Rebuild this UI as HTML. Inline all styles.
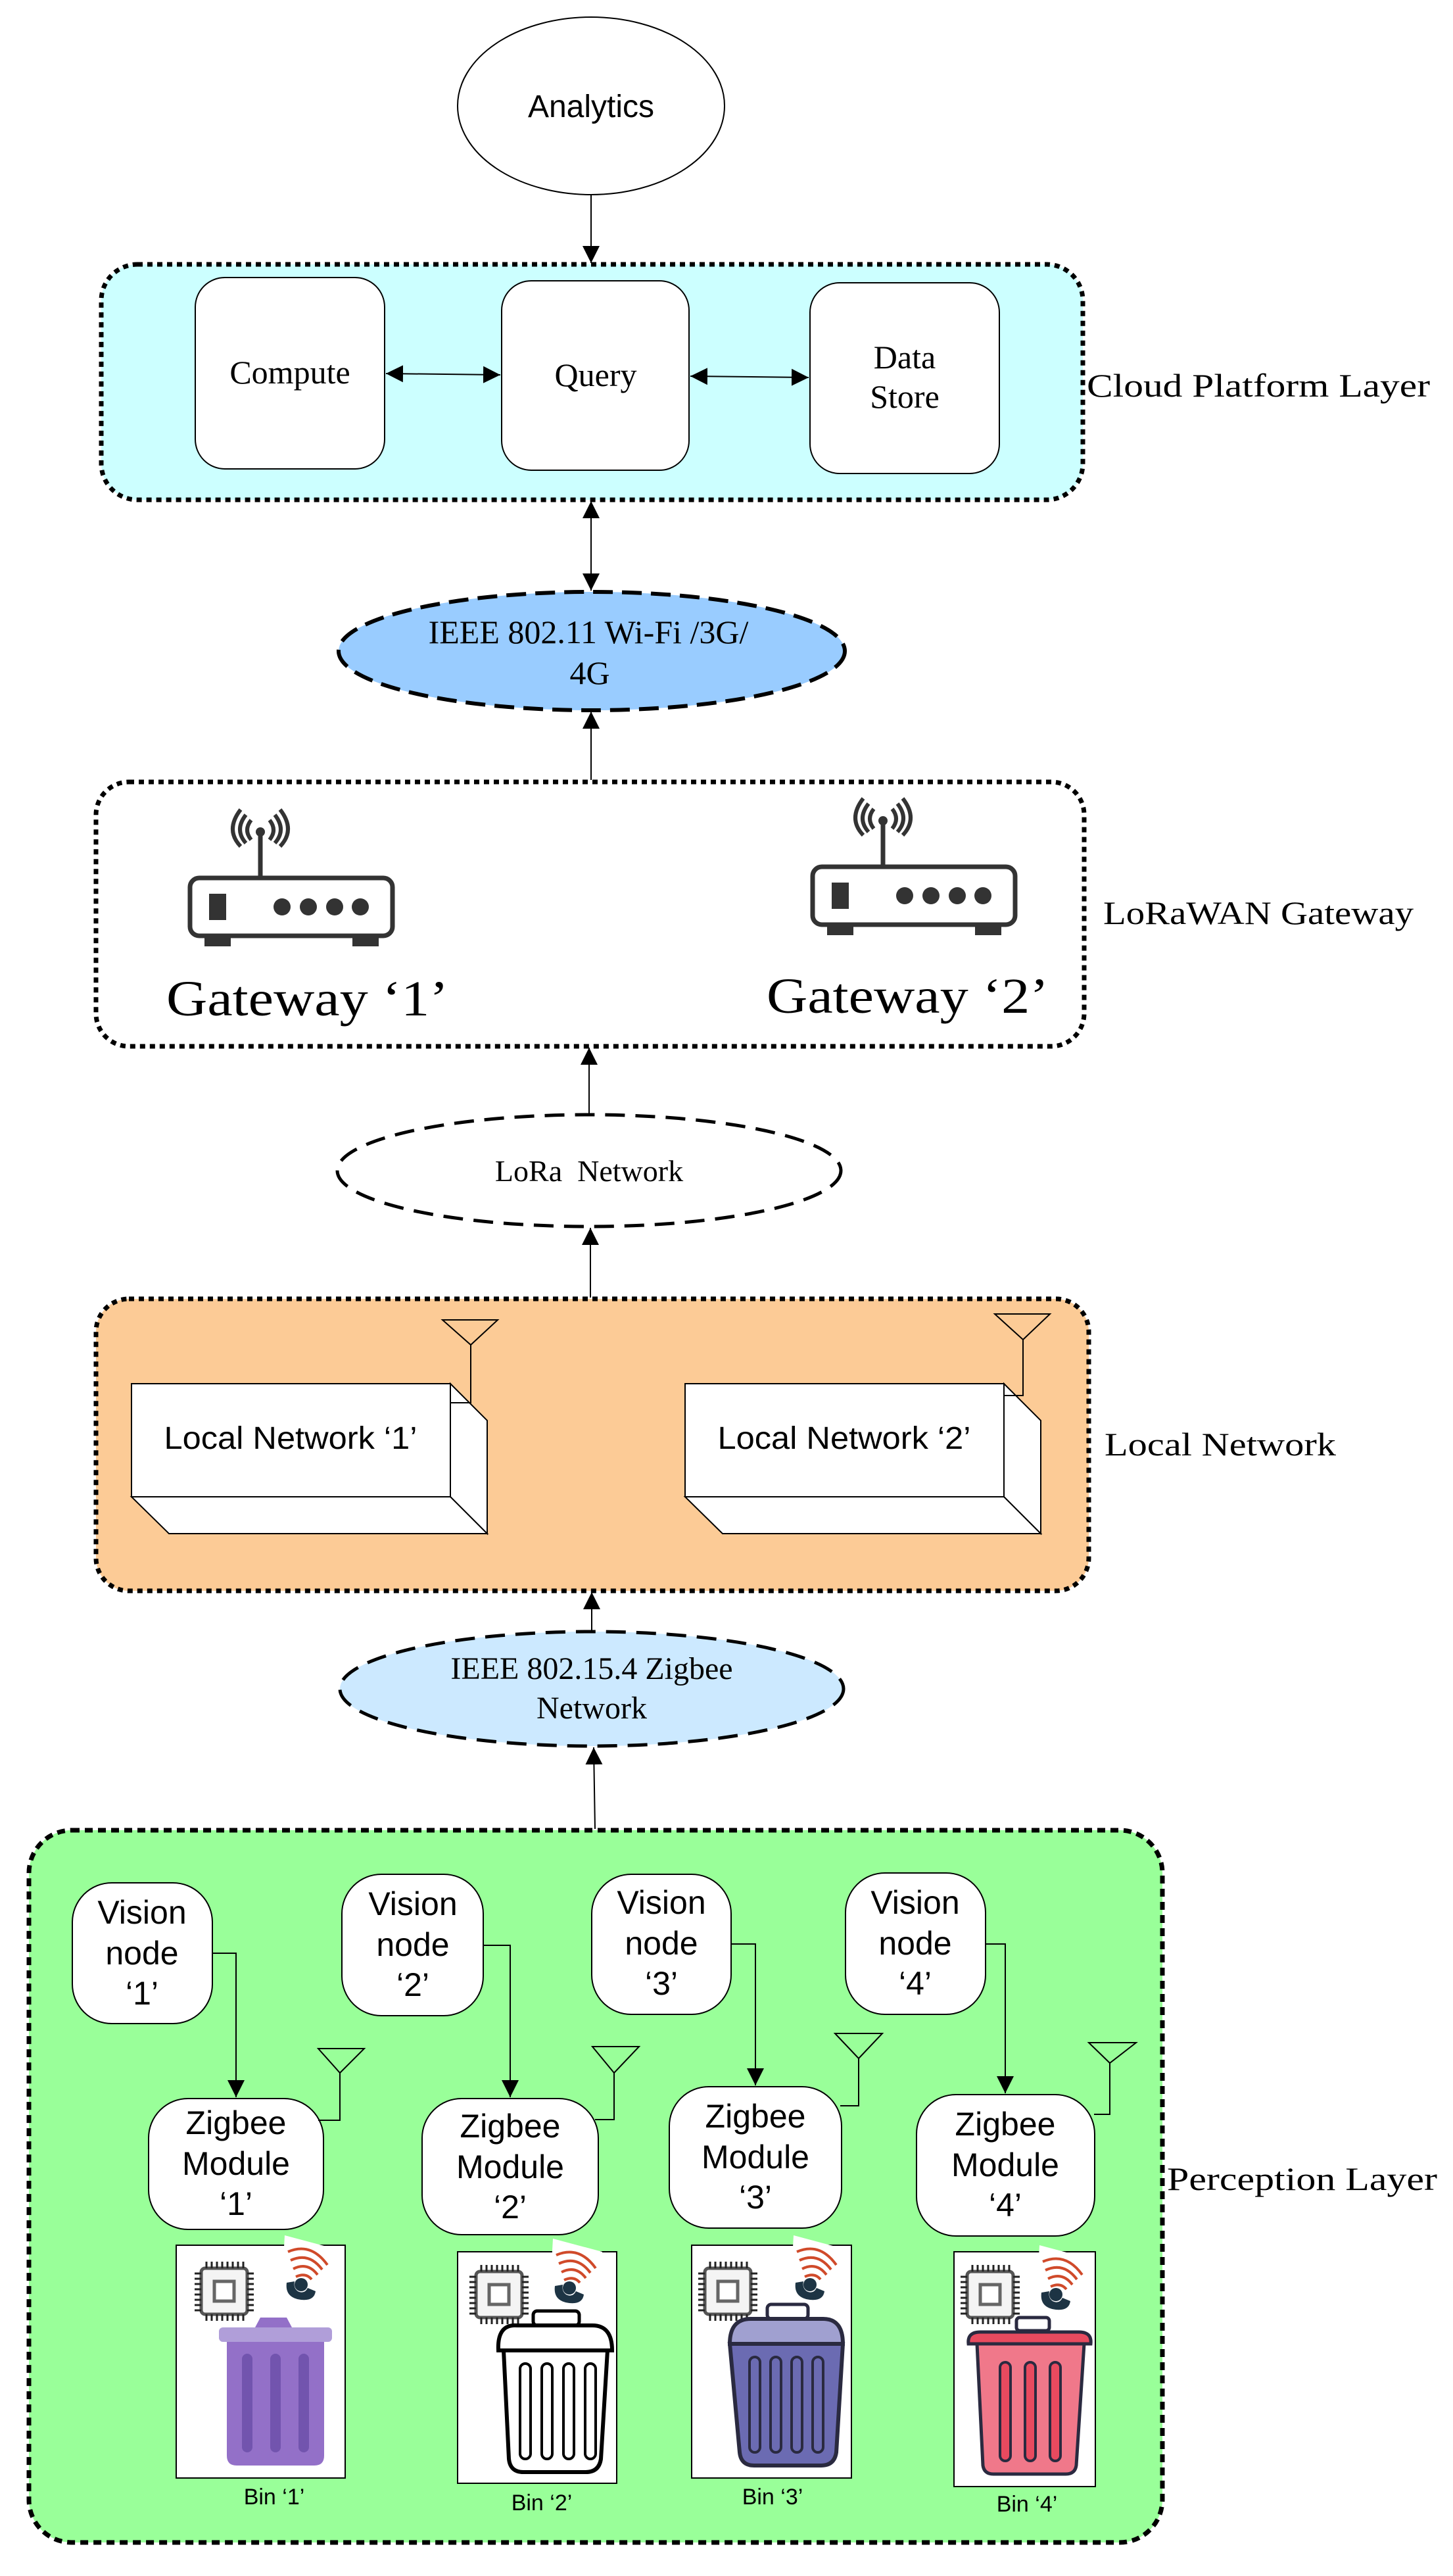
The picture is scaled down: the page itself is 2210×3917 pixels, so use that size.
<!DOCTYPE html>
<html><head><meta charset="utf-8"><style>html,body{margin:0;padding:0;background:#fff}svg{display:block}</style></head>
<body>
<svg width="2210" height="3917" viewBox="0 0 2210 3917" xmlns="http://www.w3.org/2000/svg">
<defs>
<marker id="ah" viewBox="0 0 10 10" refX="10" refY="5" markerWidth="6" markerHeight="8" markerUnits="userSpaceOnUse" orient="auto-start-reverse"><path d="M0,0 L10,5 L0,10 z" fill="#000"/></marker>
<marker id="ahb" viewBox="0 0 10 10" refX="10" refY="5" markerWidth="26" markerHeight="34" markerUnits="userSpaceOnUse" orient="auto-start-reverse"><path d="M0,0 L10,5 L0,10 z" fill="#000"/></marker>
<g id="chip">
<rect x="10" y="10" width="70" height="70" rx="6" fill="#f4f4f4" stroke="#555" stroke-width="5"/>
<rect x="30" y="30" width="30" height="30" fill="#fff" stroke="#666" stroke-width="5"/>
<path d="M18 0v10M26 0v10M34 0v10M42 0v10M50 0v10M58 0v10M66 0v10M74 0v10M18 80v10M26 80v10M34 80v10M42 80v10M50 80v10M58 80v10M66 80v10M74 80v10M0 18h10M0 26h10M0 34h10M0 42h10M0 50h10M0 58h10M0 66h10M0 74h10M80 18h10M80 26h10M80 34h10M80 42h10M80 50h10M80 58h10M80 66h10M80 74h10" stroke="#222" stroke-width="3"/>
</g>
<g id="sensor">
<path d="M5 0 L80 20 L70 105 L0 90 z" fill="#fff"/>
<path d="M10 25 Q45 10 70 45 M14 38 Q42 25 62 52 M18 51 Q40 40 55 60 M22 63 Q37 56 46 67" fill="none" stroke="#d04a2a" stroke-width="4"/>
<path d="M8 72 Q5 95 30 98 Q50 100 52 85 L40 80 Q35 90 25 85 Q18 80 20 70 z" fill="#1d3444"/>
<circle cx="30" cy="75" r="10" fill="#1d3444"/>
</g>
</defs>

<!-- Analytics -->
<ellipse cx="899" cy="161" rx="203" ry="135" fill="#fff" stroke="#000" stroke-width="2"/>
<text x="899" y="178" font-family="Liberation Sans, sans-serif" font-size="48" text-anchor="middle">Analytics</text>
<line x1="899" y1="297" x2="899" y2="400" stroke="#000" stroke-width="2" marker-end="url(#ahb)"/>

<!-- Cloud -->
<rect x="154" y="402" width="1493" height="358" rx="55" fill="#ccffff" stroke="#000" stroke-width="7" stroke-dasharray="8 7"/>
<rect x="297" y="422" width="288" height="291" rx="45" fill="#fff" stroke="#000" stroke-width="2"/>
<rect x="763" y="427" width="285" height="288" rx="45" fill="#fff" stroke="#000" stroke-width="2"/>
<rect x="1232" y="430" width="288" height="290" rx="45" fill="#fff" stroke="#000" stroke-width="2"/>
<text x="441" y="583" font-family="Liberation Serif, serif" font-size="50" text-anchor="middle">Compute</text>
<text x="906" y="587" font-family="Liberation Serif, serif" font-size="50" text-anchor="middle">Query</text>
<text x="1376" y="560" font-family="Liberation Serif, serif" font-size="50" text-anchor="middle">Data</text>
<text x="1376" y="620" font-family="Liberation Serif, serif" font-size="50" text-anchor="middle">Store</text>
<line x1="587" y1="568" x2="761" y2="570" stroke="#000" stroke-width="2" marker-start="url(#ahb)" marker-end="url(#ahb)"/>
<line x1="1050" y1="572" x2="1230" y2="574" stroke="#000" stroke-width="2" marker-start="url(#ahb)" marker-end="url(#ahb)"/>
<text x="1653" y="603" font-family="Liberation Serif, serif" font-size="50" textLength="522" lengthAdjust="spacingAndGlyphs">Cloud Platform Layer</text>
<line x1="899" y1="762" x2="899" y2="898" stroke="#000" stroke-width="2" marker-start="url(#ahb)" marker-end="url(#ahb)"/>

<!-- WiFi ellipse -->
<ellipse cx="900" cy="990" rx="385" ry="90" fill="#99ccff" stroke="#000" stroke-width="6" stroke-dasharray="30 14"/>
<text x="895" y="978" font-family="Liberation Serif, serif" font-size="50" text-anchor="middle">IEEE 802.11 Wi-Fi /3G/</text>
<text x="897" y="1040" font-family="Liberation Serif, serif" font-size="50" text-anchor="middle">4G</text>
<line x1="899" y1="1186" x2="899" y2="1082" stroke="#000" stroke-width="2" marker-end="url(#ahb)"/>

<!-- Gateway -->
<rect x="146" y="1189" width="1503" height="402" rx="50" fill="#fff" stroke="#000" stroke-width="7" stroke-dasharray="8 7"/>
<g id="router1" transform="translate(286,1237)">
<path d="M96 40 Q84 25 96 10 M88 45 Q70 25 88 2 M124 40 Q136 25 124 10 M132 45 Q150 25 132 2 M80 50 Q56 25 80 -6 M140 50 Q164 25 140 -6" fill="none" stroke="#333" stroke-width="6"/>
<circle cx="110" cy="28" r="7" fill="#333"/>
<line x1="110" y1="28" x2="110" y2="96" stroke="#333" stroke-width="7"/>
<rect x="3" y="98" width="308" height="88" rx="14" fill="#fff" stroke="#333" stroke-width="7"/>
<rect x="32" y="122" width="26" height="40" fill="#333"/>
<circle cx="143" cy="142" r="13" fill="#333"/><circle cx="183" cy="142" r="13" fill="#333"/><circle cx="223" cy="142" r="13" fill="#333"/><circle cx="262" cy="142" r="13" fill="#333"/>
<rect x="25" y="186" width="40" height="16" fill="#333"/><rect x="250" y="186" width="40" height="16" fill="#333"/>
</g>
<use href="#router1" transform="translate(947,-17)"/>
<text x="253" y="1544" font-family="Liberation Serif, serif" font-size="76" textLength="429" lengthAdjust="spacingAndGlyphs">Gateway ‘1’</text>
<text x="1166" y="1540" font-family="Liberation Serif, serif" font-size="76" textLength="429" lengthAdjust="spacingAndGlyphs">Gateway ‘2’</text>
<text x="1678" y="1405" font-family="Liberation Serif, serif" font-size="50" textLength="472" lengthAdjust="spacingAndGlyphs">LoRaWAN Gateway</text>

<!-- LoRa -->
<line x1="896" y1="1693" x2="896" y2="1593" stroke="#000" stroke-width="2" marker-end="url(#ahb)"/>
<ellipse cx="896" cy="1780" rx="383" ry="85" fill="#fff" stroke="#000" stroke-width="5" stroke-dasharray="30 16"/>
<text x="896" y="1796" font-family="Liberation Serif, serif" font-size="46" text-anchor="middle" xml:space="preserve">LoRa  Network</text>
<line x1="898" y1="1973" x2="898" y2="1867" stroke="#000" stroke-width="2" marker-end="url(#ahb)"/>

<!-- Local network -->
<rect x="146" y="1975" width="1510" height="444" rx="50" fill="#fccb96" stroke="#000" stroke-width="7" stroke-dasharray="8 7"/>
<g stroke="#000" stroke-width="2" fill="#fff">
<rect x="200" y="2104" width="485" height="172"/>
<path d="M685 2104 L741 2160 L741 2332 L685 2276 z"/>
<path d="M200 2276 L685 2276 L741 2332 L257 2332 z"/>
<rect x="1042" y="2104" width="485" height="172"/>
<path d="M1527 2104 L1583 2160 L1583 2332 L1527 2276 z"/>
<path d="M1042 2276 L1527 2276 L1583 2332 L1099 2332 z"/>
<path d="M673 2007 L757 2007 L716 2045 z M716 2045 L716 2133 L685 2133" fill="none"/>
<path d="M1513 1998 L1597 1998 L1556 2037 z M1556 2037 L1556 2122 L1527 2122" fill="none"/>
</g>
<text x="442" y="2203" font-family="Liberation Sans, sans-serif" font-size="48" text-anchor="middle" textLength="385" lengthAdjust="spacingAndGlyphs">Local Network ‘1’</text>
<text x="1284" y="2203" font-family="Liberation Sans, sans-serif" font-size="48" text-anchor="middle" textLength="385" lengthAdjust="spacingAndGlyphs">Local Network ‘2’</text>
<text x="1680" y="2213" font-family="Liberation Serif, serif" font-size="50" textLength="352" lengthAdjust="spacingAndGlyphs">Local Network</text>

<!-- Zigbee ellipse -->
<line x1="900" y1="2480" x2="900" y2="2421" stroke="#000" stroke-width="2" marker-end="url(#ahb)"/>
<ellipse cx="900" cy="2568" rx="383" ry="87" fill="#cce9ff" stroke="#000" stroke-width="5" stroke-dasharray="30 16"/>
<text x="900" y="2553" font-family="Liberation Serif, serif" font-size="48" text-anchor="middle">IEEE 802.15.4 Zigbee</text>
<text x="900" y="2613" font-family="Liberation Serif, serif" font-size="48" text-anchor="middle">Network</text>
<line x1="905" y1="2781" x2="903" y2="2657" stroke="#000" stroke-width="2" marker-end="url(#ahb)"/>

<!-- Perception -->
<rect x="44" y="2783" width="1724" height="1083" rx="65" fill="#99ff99" stroke="#000" stroke-width="7" stroke-dasharray="12 8"/>
<text x="1775" y="3330" font-family="Liberation Serif, serif" font-size="50" textLength="411" lengthAdjust="spacingAndGlyphs">Perception Layer</text>

<g font-family="Liberation Sans, sans-serif" font-size="50" text-anchor="middle">
<rect x="110" y="2863" width="213" height="214" rx="60" fill="#fff" stroke="#000" stroke-width="2"/>
<text x="216" y="2925">Vision</text><text x="216" y="2987">node</text><text x="216" y="3048">‘1’</text>
<rect x="520" y="2850" width="215" height="215" rx="60" fill="#fff" stroke="#000" stroke-width="2"/>
<text x="628" y="2912">Vision</text><text x="628" y="2974">node</text><text x="628" y="3035">‘2’</text>
<rect x="900" y="2850" width="212" height="213" rx="60" fill="#fff" stroke="#000" stroke-width="2"/>
<text x="1006" y="2910">Vision</text><text x="1006" y="2972">node</text><text x="1006" y="3033">‘3’</text>
<rect x="1286" y="2848" width="213" height="215" rx="60" fill="#fff" stroke="#000" stroke-width="2"/>
<text x="1392" y="2910">Vision</text><text x="1392" y="2972">node</text><text x="1392" y="3033">‘4’</text>

<rect x="226" y="3191" width="266" height="199" rx="60" fill="#fff" stroke="#000" stroke-width="2"/>
<text x="359" y="3245">Zigbee</text><text x="359" y="3307">Module</text><text x="359" y="3368">‘1’</text>
<rect x="642" y="3191" width="268" height="207" rx="60" fill="#fff" stroke="#000" stroke-width="2"/>
<text x="776" y="3250">Zigbee</text><text x="776" y="3312">Module</text><text x="776" y="3373">‘2’</text>
<rect x="1018" y="3173" width="262" height="215" rx="60" fill="#fff" stroke="#000" stroke-width="2"/>
<text x="1149" y="3235">Zigbee</text><text x="1149" y="3297">Module</text><text x="1149" y="3358">‘3’</text>
<rect x="1394" y="3185" width="271" height="215" rx="60" fill="#fff" stroke="#000" stroke-width="2"/>
<text x="1529" y="3247">Zigbee</text><text x="1529" y="3309">Module</text><text x="1529" y="3370">‘4’</text>
</g>

<g stroke="#000" stroke-width="2" fill="none">
<path d="M323 2970 H359 V3189" marker-end="url(#ahb)"/>
<path d="M735 2958 H776 V3189" marker-end="url(#ahb)"/>
<path d="M1112 2956 H1149 V3171" marker-end="url(#ahb)"/>
<path d="M1499 2956 H1529 V3183" marker-end="url(#ahb)"/>
<path d="M484 3115 H554 L517 3152 z M517 3152 V3224 H484"/>
<path d="M901 3112 H972 L934 3152 z M934 3152 V3223 H905"/>
<path d="M1270 3092 H1342 L1306 3130 z M1306 3130 V3202 H1278"/>
<path d="M1656 3106 H1728 L1688 3137 z M1688 3137 V3215 H1664"/>
</g>

<g transform="translate(268,3414)">
<rect x="0" y="0" width="257" height="354" fill="#fff" stroke="#000" stroke-width="2"/>
<use href="#chip" transform="translate(28,25)"/>
<use href="#sensor" transform="translate(160,-15)"/>
<path d="M120 125 L128 110 L168 110 L176 125 z" fill="#9370c8"/>
<rect x="65" y="125" width="172" height="22" rx="6" fill="#b09ed9"/>
<path d="M77 147 H225 V320 Q225 335 210 335 H92 Q77 335 77 320 z" fill="#9370c8"/>
<rect x="100" y="165" width="16" height="150" rx="8" fill="#7254ae"/>
<rect x="143" y="165" width="16" height="150" rx="8" fill="#7254ae"/>
<rect x="186" y="165" width="16" height="150" rx="8" fill="#7254ae"/>
</g>
<text x="417" y="3808" font-family="Liberation Sans, sans-serif" font-size="34" text-anchor="middle">Bin ‘1’</text>

<g transform="translate(696,3424)">
<rect x="0" y="0" width="242" height="352" fill="#fff" stroke="#000" stroke-width="2"/>
<use href="#chip" transform="translate(18,20)"/>
<use href="#sensor" transform="translate(140,-20)"/>
<rect x="115" y="90" width="70" height="22" rx="6" fill="#fff" stroke="#000" stroke-width="5"/>
<path d="M62 150 Q60 110 90 112 H205 Q235 112 235 150 z" fill="#fff" stroke="#000" stroke-width="6"/>
<path d="M70 150 H228 L218 315 Q215 335 195 335 H100 Q80 335 78 315 z" fill="#fff" stroke="#000" stroke-width="6"/>
<rect x="95" y="170" width="16" height="145" rx="8" fill="none" stroke="#000" stroke-width="4"/>
<rect x="128" y="170" width="16" height="145" rx="8" fill="none" stroke="#000" stroke-width="4"/>
<rect x="161" y="170" width="16" height="145" rx="8" fill="none" stroke="#000" stroke-width="4"/>
<rect x="194" y="170" width="16" height="145" rx="8" fill="none" stroke="#000" stroke-width="4"/>
</g>
<text x="824" y="3817" font-family="Liberation Sans, sans-serif" font-size="34" text-anchor="middle">Bin ‘2’</text>

<g transform="translate(1052,3414)">
<rect x="0" y="0" width="243" height="354" fill="#fff" stroke="#000" stroke-width="2"/>
<use href="#chip" transform="translate(10,25)"/>
<use href="#sensor" transform="translate(150,-15)"/>
<rect x="115" y="90" width="62" height="22" rx="6" fill="#fff" stroke="#2a2a40" stroke-width="5"/>
<path d="M58 150 Q58 112 90 112 H200 Q230 112 230 150 z" fill="#a0a0d0" stroke="#2a2a40" stroke-width="6"/>
<path d="M58 150 H230 L220 315 Q217 335 197 335 H95 Q75 335 73 315 z" fill="#6b6bb2" stroke="#2a2a40" stroke-width="6"/>
<rect x="88" y="170" width="16" height="145" rx="8" fill="none" stroke="#2a2a40" stroke-width="4"/>
<rect x="120" y="170" width="16" height="145" rx="8" fill="none" stroke="#2a2a40" stroke-width="4"/>
<rect x="152" y="170" width="16" height="145" rx="8" fill="none" stroke="#2a2a40" stroke-width="4"/>
<rect x="184" y="170" width="16" height="145" rx="8" fill="none" stroke="#2a2a40" stroke-width="4"/>
</g>
<text x="1175" y="3808" font-family="Liberation Sans, sans-serif" font-size="34" text-anchor="middle">Bin ‘3’</text>

<g transform="translate(1451,3424)">
<rect x="0" y="0" width="215" height="357" fill="#fff" stroke="#000" stroke-width="2"/>
<use href="#chip" transform="translate(10,20)"/>
<use href="#sensor" transform="translate(125,-10)"/>
<rect x="95" y="100" width="50" height="20" rx="5" fill="#fff" stroke="#2a2a40" stroke-width="5"/>
<path d="M22 140 Q20 122 40 122 H190 Q210 122 208 140 z" fill="#e84a5f" stroke="#2a2a40" stroke-width="5"/>
<path d="M35 140 H198 L186 325 Q184 338 170 338 H60 Q46 338 44 325 z" fill="#f0788a" stroke="#2a2a40" stroke-width="5"/>
<rect x="70" y="168" width="16" height="150" rx="8" fill="#e84a5f" stroke="#2a2a40" stroke-width="4"/>
<rect x="108" y="168" width="16" height="150" rx="8" fill="#e84a5f" stroke="#2a2a40" stroke-width="4"/>
<rect x="146" y="168" width="16" height="150" rx="8" fill="#e84a5f" stroke="#2a2a40" stroke-width="4"/>
</g>
<text x="1562" y="3819" font-family="Liberation Sans, sans-serif" font-size="34" text-anchor="middle">Bin ‘4’</text>
</svg>
</body></html>
